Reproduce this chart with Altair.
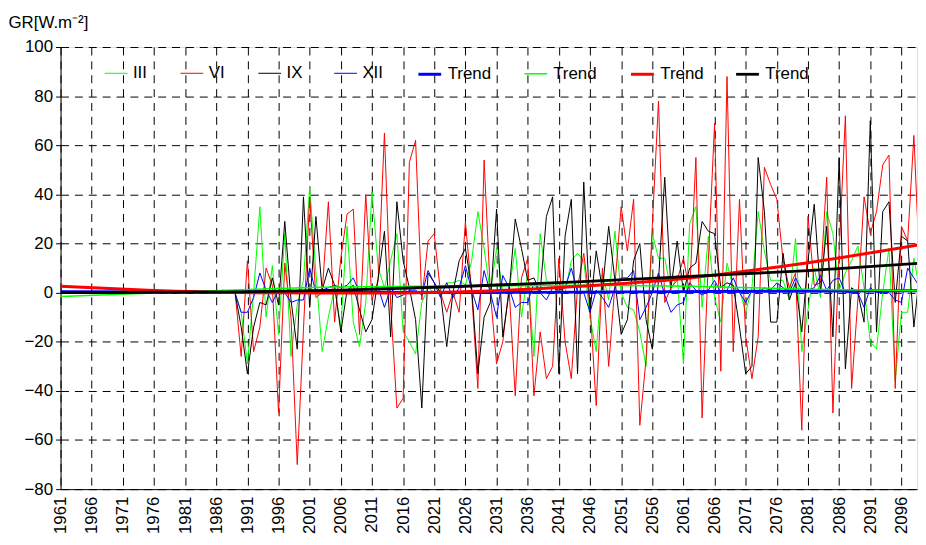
import altair as alt
import pandas as pd

# ---------------- data ----------------
years = list(range(1961, 2100))

zeros_pre = [0, 0, 0, 0, 0, 0, 0, 0, 0, 0, 0, 0, 0, 0, 0, 0, 0, 0, 0, 0, 0, 0, 0, 0, 0, 0, 0, 0]  # 1961-1988

iii_tail = [0, -8, -29, 0, 35, -10, 11, -17, 24, -26, -5, 5, 43, 8, -24, -10, 2, -14, 27, -12,
            -22, -4, 41, 10, 2, 13, 24, -16, -20, -25, -4, 2, 0, 1, 4, 4, 5, 3, 13, 33,
            18, 0, 18, 0, 1, 18, -10, 8, -26, 24, 5, 2, 1, 0, 13, 16, 13, -10, -24, 8,
            -3, 25, 0, -6, -7, -16, -30, 24, 14, 14, 1, 7, -29, 28, 35, -6, 23, -2, -12, 12,
            2, 1, -8, 2, 33, 17, 5, 5, 5, -3, 22, -24, -7, 10, -2, 33, 24, 1, 8, 13,
            19, 2, -20, -23, 0, 18, -36, -8, -8, 14, 0]

vi_pre = [0, 0, 0, 0, 0, 0, 0, 0, 0, 0, 0, 0, 0, 0, 0, 0, 0, 0, 0, 0, 0, 0, 0, 0, 0, 0, 1, 0]
vi_tail = [1, -26, 13, -24, -14, 10, 3, -49, 12, -10, -70, -15, 39, -2, 0, 37, -12, 14, 32, 34,
           -17, 40, -3, 5, 65, -5, -47, -43, 53, 62, -3, 21, 24, 0, -8, 0, -8, 29, 0, -39,
           54, 0, -29, -20, 2, -42, 6, 14, -42, -16, -35, -30, 14, -20, -35, 2, 16, -5, -46, 10,
           -30, 3, 35, 17, 38, -54, -27, 27, 78, -4, 2, 5, 14, 0, 55, -51, 13, 69, -32, 88,
           -24, 38, -18, -35, -18, 51, 44, 38, 13, 2, 8, -56, 31, 3, 4, 47, -49, 17, 72, -39,
           -3, 39, 24, 33, 52, 56, -39, 27, 21, 64, 5]

ix_tail = [0, -14, -33, -14, -4, -5, 6, -5, 29, -3, -23, 39, -6, 31, 1, 10, 3, -16, 1, 3,
           -7, -16, -11, 6, 25, -18, 37, 13, 2, -11, -47, 8, 4, 0, -22, 0, 13, 18, 2, -33,
           -10, -4, 34, -18, 0, 30, 18, 5, 6, 0, 31, 39, -33, 23, 38, -33, 45, -8, 17, 1,
           27, 5, -17, -11, 13, 20, -11, -23, 5, 47, 2, 21, 0, 10, 12, 29, 25, 24, 2, 4,
           3, -14, -33, -30, 55, 33, -12, -12, 16, -3, 4, -16, 13, 36, 0, 27, -18, 55, -31, 2,
           0, -12, 70, -16, 33, 37, -4, 23, 21, -14, 10]

xii_tail = [0, -8, -8, -2, 8, 1, -4, 1, 0, -4, -3, -3, 10, 0, 1, 2, 3, 2, 3, 6,
            0, 2, 1, 2, -6, 2, -2, -1, 1, 1, -1, 9, 4, -2, 4, -2, 2, 11, 1, -7,
            9, 0, -10, 7, 2, -6, -4, -4, 4, 0, -3, 2, 1, 2, 10, 0, 0, -8, 1, -2,
            -6, 2, 6, 6, 9, -11, -6, 0, 8, -1, -8, -5, -4, 4, 1, -1, 1, 5, 0, 1,
            6, 0, -4, 1, 0, 2, 1, 4, 2, 0, 6, 1, 1, 2, 7, 1, 5, 6, 0, 0,
            0, -6, 2, 0, 0, 0, -3, -4, 10, 6, 2]

series_iii = zeros_pre + iii_tail
series_vi = vi_pre + vi_tail
series_ix = zeros_pre + ix_tail
series_xii = zeros_pre + xii_tail

# trend lines, read at a few years
trend_xii_years = [1961, 2030, 2099]
trend_xii_vals = [0.4, 0.1, 0.8]
trend_iii_years = [1961, 1990, 2005, 2025, 2045, 2062, 2081, 2099]
trend_iii_vals = [-1.6, 1.2, 2.3, 2.7, 3.0, 2.6, 1.4, 0.8]
trend_vi_years = [1961, 1975, 1990, 2006, 2025, 2043, 2062, 2081, 2099]
trend_vi_vals = [2.6, 1.0, 0.0, -0.2, 0.3, 2.4, 6.0, 12.2, 19.5]
trend_ix_years = [1961, 1990, 2006, 2025, 2043, 2062, 2081, 2099]
trend_ix_vals = [0.0, 0.3, 1.0, 2.5, 4.3, 6.6, 9.0, 12.0]

labels = ["III", "VI", "IX", "XII", "Trend", "Trend", "Trend", "Trend"]
colors = ["#00FF00", "#FF0000", "#000000", "#0000FF", "#0000FF", "#00FF00", "#FF0000", "#000000"]
widths = [1, 1, 1, 1, 3, 1.5, 3, 2.8]
legend_x = [44, 120.5, 199, 275.5, 359.5, 467, 574, 680]

y_ticks = [-80, -60, -40, -20, 0, 20, 40, 60, 80, 100]
x_ticks = list(range(1961, 2097, 5))

FONT = "Liberation Sans"

x_enc = alt.X(
    "year:Q",
    scale=alt.Scale(domain=[1961, 2098.5], nice=False, zero=False),
    axis=alt.Axis(values=x_ticks, format="d", labelAngle=270, labelFontSize=17,
                  labelFont=FONT, labelColor="black", ticks=False, labelPadding=7,
                  domainColor="black", grid=True, gridColor="black", gridDash=[8, 6],
                  gridOpacity=1, labelOverlap=False, labelFlush=False, title=None),
)
y_enc = alt.Y(
    "value:Q",
    scale=alt.Scale(domain=[-80, 100], nice=False),
    axis=alt.Axis(values=y_ticks, format="d", labelFontSize=17, labelFont=FONT,
                  labelColor="black", tickSize=5, tickColor="black", domainColor="black",
                  grid=True, gridColor="black", gridDash=[8, 6], gridOpacity=1,
                  labelPadding=3,
                  title="GR[W.m⁻²]", titleAngle=0, titleAlign="left",
                  titleBaseline="alphabetic", titleX=-53, titleY=-20,
                  titleFont=FONT, titleFontSize=17, titleFontWeight="normal",
                  titleColor="black"),
)


def make_layer(i, yrs, vals, trend):
    df = pd.DataFrame({"year": yrs, "value": vals, "series": labels[i]})
    leg = alt.Legend(
        title=None, orient="none", legendX=legend_x[i], legendY=14.5,
        symbolType="stroke", symbolSize=529, symbolStrokeWidth=widths[i],
        labelFont=FONT, labelFontSize=17, labelColor="black", labelOffset=5,
        padding=0,
    )
    mark = (alt.Chart(df).mark_line(clip=True, interpolate="monotone") if trend
            else alt.Chart(df).mark_line(clip=True))
    return mark.encode(
        x=x_enc, y=y_enc,
        color=alt.Color("series:N", scale=alt.Scale(domain=[labels[i]], range=[colors[i]]),
                        legend=leg),
        strokeWidth=alt.value(widths[i]),
    )


chart = alt.layer(
    make_layer(0, years, series_iii, False),
    make_layer(1, years, series_vi, False),
    make_layer(2, years, series_ix, False),
    make_layer(3, years, series_xii, False),
    make_layer(4, trend_xii_years, trend_xii_vals, True),
    make_layer(5, trend_iii_years, trend_iii_vals, True),
    make_layer(6, trend_vi_years, trend_vi_vals, True),
    make_layer(7, trend_ix_years, trend_ix_vals, True),
).resolve_scale(
    color="independent"
).properties(
    width=864, height=446,
    autosize=alt.AutoSizeParams(type="none"),
    padding={"left": 53, "top": 37, "right": 1, "bottom": 54},
).configure_view(
    stroke="black", strokeWidth=1
).configure(
    font=FONT, background="white"
)

chart.save("out.html", embed_options={"renderer": "svg", "actions": False})
